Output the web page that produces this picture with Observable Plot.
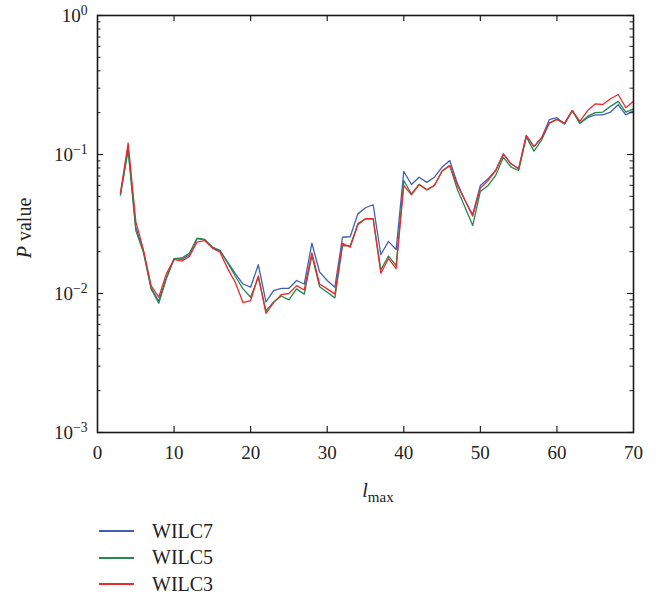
<!DOCTYPE html>
<html>
<head>
<meta charset="utf-8">
<script src="https://cdn.jsdelivr.net/npm/d3@7"></script>
<script src="https://cdn.jsdelivr.net/npm/@observablehq/plot@0.6"></script>
<style>
  body { margin: 0; background: #fff; font-family: "Liberation Serif", "DejaVu Serif", serif; }
  #legend { margin-left: 99px; margin-top: 8px; }
  .row { display: flex; align-items: center; height: 26.5px; font-size: 20px; color: #222; }
  .sw { width: 35px; height: 2px; margin-right: 18px; }
</style>
</head>
<body>
<div id="chart"></div>
<div id="legend"></div>
<script>
const lmax = [3,4,5,6,7,8,9,10,11,12,13,14,15,16,17,18,19,20,21,22,23,24,25,26,27,28,29,30,31,32,33,34,35,36,37,38,39,40,41,42,43,44,45,46,47,48,49,50,51,52,53,54,55,56,57,58,59,60,61,62,63,64,65,66,67,68,69,70];
const wilc7 = [0.052,0.112,0.030,0.020,0.0110,0.0088,0.0130,0.0178,0.0176,0.0190,0.0248,0.0243,0.0214,0.0202,0.0168,0.0139,0.0117,0.0111,0.0161,0.0087,0.0105,0.0109,0.0109,0.0124,0.0117,0.0230,0.0143,0.0124,0.0111,0.0254,0.0256,0.0374,0.0414,0.0435,0.0190,0.0237,0.0207,0.0755,0.0608,0.0687,0.0630,0.0687,0.0811,0.0905,0.0620,0.0467,0.0370,0.0598,0.0668,0.0767,0.101,0.0857,0.0789,0.137,0.114,0.132,0.178,0.184,0.166,0.207,0.168,0.184,0.193,0.193,0.202,0.228,0.193,0.207];
const wilc5 = [0.051,0.107,0.0284,0.0198,0.0108,0.0085,0.0128,0.0178,0.0180,0.0195,0.0250,0.0245,0.0216,0.0204,0.0166,0.0133,0.0108,0.0094,0.0131,0.0075,0.0087,0.0096,0.0090,0.0108,0.0099,0.0188,0.0112,0.0102,0.0093,0.0221,0.0220,0.0318,0.0345,0.0345,0.0148,0.0186,0.0159,0.0650,0.0520,0.0610,0.0557,0.0598,0.0760,0.0832,0.0560,0.0418,0.0308,0.0542,0.0598,0.0707,0.0957,0.0810,0.0767,0.134,0.1057,0.127,0.168,0.179,0.166,0.207,0.168,0.188,0.200,0.202,0.222,0.241,0.202,0.213];
const wilc3 = [0.053,0.121,0.033,0.0206,0.0114,0.0094,0.0139,0.0176,0.0171,0.0185,0.0234,0.0240,0.0212,0.0198,0.0151,0.0120,0.0086,0.0089,0.0134,0.0072,0.0086,0.0098,0.0100,0.0114,0.0106,0.0196,0.0117,0.0108,0.0099,0.0230,0.0215,0.0312,0.0345,0.0345,0.0140,0.0178,0.0151,0.0598,0.0513,0.0608,0.0557,0.0598,0.0760,0.0832,0.0600,0.0467,0.0360,0.0573,0.0650,0.0767,0.101,0.0857,0.0789,0.137,0.114,0.132,0.168,0.179,0.168,0.207,0.173,0.207,0.231,0.229,0.252,0.270,0.217,0.242];
const seriesNames = ["WILC7", "WILC5", "WILC3"];
const seriesColors = ["#4060b5", "#25884c", "#ec2a2e"];
const xTicks = [0, 10, 20, 30, 40, 50, 60, 70];
const yTicks = [0.001, 0.01, 0.1, 1];

const allSeries = [wilc7, wilc5, wilc3];
const rows = seriesNames.map((name, k) => lmax.map((l, i) => ({l, p: allSeries[k][i], series: name})));
const yMinor = [];
for (const d of yTicks.slice(0, -1)) for (let m = 2; m <= 9; m++) yMinor.push(d * m);
const innerX = xTicks.slice(1, -1);

const W = 659, H = 510;
const mL = 97, mR = 26, mT = 15, mB = 78;
const pw = W - mL - mR, ph = H - mT - mB;

const plot = Plot.plot({
  width: W, height: H,
  marginLeft: mL, marginRight: mR, marginTop: mT, marginBottom: mB,
  style: {fontFamily: "'Liberation Serif', serif", fontSize: "19px", color: "#222", background: "#fff"},
  x: {domain: [0, 70], axis: null},
  y: {type: "log", domain: [0.001, 1], axis: null},
  color: {domain: seriesNames, range: seriesColors},
  marks: [
    ...rows.map(r => Plot.line(r, {x: "l", y: "p", stroke: "series", strokeWidth: 1.3})),
    Plot.axisX({ticks: xTicks, tickSize: 0, tickPadding: 13, tickFormat: d => String(d), label: null}),
    Plot.axisY({ticks: yTicks, tickSize: 0, tickPadding: 10, tickFormat: d => String(Math.round(Math.log10(d))), label: null}),
    Plot.tickY(yTicks, {y: d => d, insetRight: pw - 6, stroke: "#222", strokeWidth: 1.2}),
    Plot.tickY(yTicks, {y: d => d, insetLeft: pw - 6, stroke: "#222", strokeWidth: 1.2}),
    Plot.tickY(yMinor, {y: d => d, insetRight: pw - 3.5, stroke: "#222", strokeWidth: 1}),
    Plot.tickY(yMinor, {y: d => d, insetLeft: pw - 3.5, stroke: "#222", strokeWidth: 1}),
    Plot.tickX(innerX, {x: d => d, insetTop: ph - 6, stroke: "#222", strokeWidth: 1.2}),
    Plot.tickX(innerX, {x: d => d, insetBottom: ph - 6, stroke: "#222", strokeWidth: 1.2}),
    Plot.frame({stroke: "#1a1a1a", strokeWidth: 1.6})
  ]
});

// superscript exponents on y tick labels
d3.select(plot).selectAll('g[aria-label="y-axis tick label"] text').each(function() {
  const exp = this.textContent.replace("-", "\u2212");
  const t = d3.select(this);
  t.text("");
  t.append("tspan").text("10");
  t.append("tspan").attr("dy", "-0.5em").attr("font-size", "0.72em").text(exp);
});

const svg = d3.select(plot);
// x-axis label: l_max
const xl = svg.append("text").attr("x", mL + pw / 2 + 13).attr("y", 497)
  .attr("text-anchor", "middle").attr("font-size", 20).attr("fill", "#222");
xl.append("tspan").attr("font-style", "italic").text("l");
xl.append("tspan").attr("dy", "0.3em").attr("font-size", "0.75em").text("max");
// y-axis label: P value
const yl = svg.append("text").attr("transform", `translate(31,228) rotate(-90)`)
  .attr("text-anchor", "middle").attr("font-size", 20).attr("fill", "#222");
yl.append("tspan").attr("font-style", "italic").text("P");
yl.append("tspan").text(" value");

document.getElementById("chart").appendChild(plot);

const legend = d3.select("#legend");
seriesNames.forEach((n, i) => {
  const r = legend.append("div").attr("class", "row");
  r.append("span").attr("class", "sw").style("background", seriesColors[i]);
  r.append("span").text(n);
});
</script>
</body>
</html>
